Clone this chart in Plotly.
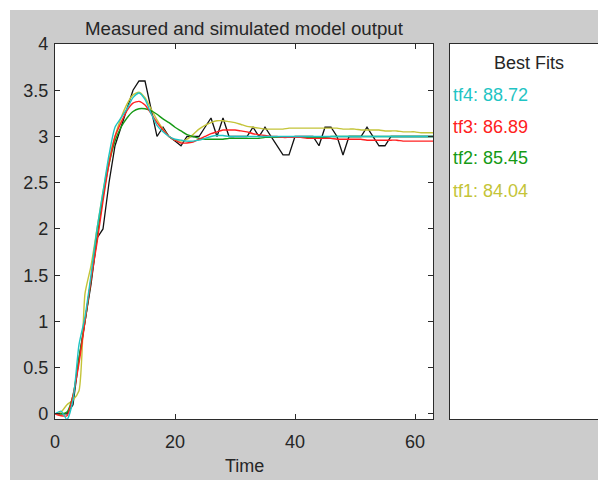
import plotly.graph_objects as go

# ---------------- data ----------------
t_meas = list(range(0, 64))
y_meas = [0.0, 0.0, 0.0, 0.1, 0.6, 1.0, 1.4, 1.9, 2.0, 2.5,
          2.9, 3.1, 3.3, 3.5, 3.6, 3.6, 3.3, 3.0, 3.1, 3.0,
          2.95, 2.9, 3.0, 3.0, 3.0, 3.1, 3.2, 3.0, 3.2, 3.0,
          3.0, 3.0, 3.0, 3.1, 3.0, 3.1, 3.0, 2.9, 2.8, 2.8,
          3.0, 3.0, 3.0, 3.0, 2.9, 3.1, 3.1, 3.0, 2.8, 3.0,
          3.0, 3.0, 3.1, 3.0, 2.9, 2.9, 3.0, 3.0, 3.0, 3.0,
          3.0, 3.0, 3.0, 3.0]

t_sim = list(range(0, 64))
y_tf4 = [0.0, 0.03, -0.06, 0.15, 0.75, 1.05, 1.5, 2.0, 2.4, 2.8,
         3.1, 3.2, 3.3, 3.42, 3.47, 3.4, 3.25, 3.12, 3.05, 3.0,
         2.97, 2.96, 2.95, 2.95, 2.96, 2.98, 3.0, 3.01, 3.01, 3.0,
         3.0, 3.0, 3.0, 3.0, 3.0, 3.0, 3.0, 3.0, 3.0, 3.0,
         3.0, 3.0, 3.0, 3.0, 3.0, 3.0, 3.0, 3.0, 3.0, 3.0,
         3.0, 3.0, 3.0, 3.0, 3.0, 3.0, 3.0, 3.0, 3.0, 3.0,
         3.0, 3.0, 3.0, 3.0]
y_tf3 = [0.0, -0.02, -0.02, 0.2, 0.55, 1.0, 1.45, 1.85, 2.3, 2.7,
         3.0, 3.15, 3.28, 3.36, 3.38, 3.34, 3.25, 3.15, 3.07, 3.0,
         2.96, 2.93, 2.93, 2.94, 2.97, 3.0, 3.03, 3.05, 3.07, 3.07,
         3.07, 3.06, 3.05, 3.03, 3.02, 3.01, 3.0, 3.0, 2.99, 2.99,
         2.99, 2.99, 2.98, 2.98, 2.98, 2.98, 2.98, 2.97, 2.97, 2.97,
         2.97, 2.97, 2.96, 2.96, 2.96, 2.96, 2.96, 2.96, 2.95, 2.95,
         2.95, 2.95, 2.95, 2.95]
y_tf2 = [0.0, 0.0, 0.02, 0.2, 0.6, 1.0, 1.45, 1.9, 2.35, 2.7,
         2.95, 3.1, 3.2, 3.27, 3.3, 3.3, 3.28, 3.24, 3.19, 3.15,
         3.1, 3.06, 3.02, 3.0, 2.98, 2.97, 2.97, 2.97, 2.97, 2.98,
         2.98, 2.98, 2.98, 2.98, 2.98, 2.99, 2.99, 2.99, 2.99, 2.99,
         2.99, 2.99, 2.99, 2.99, 2.99, 2.99, 3.0, 3.0, 3.0, 3.0,
         3.0, 3.0, 3.0, 3.0, 3.0, 3.0, 3.0, 3.0, 3.0, 3.0,
         3.0, 3.0, 3.0, 3.0]
y_tf1 = [0.0, 0.02, 0.1, 0.15, 0.25, 1.3, 1.6, 2.0, 2.4, 2.75,
         3.0, 3.2, 3.35, 3.45, 3.48, 3.42, 3.3, 3.18, 3.08, 3.0,
         2.96, 2.95, 2.97, 3.02, 3.08, 3.12, 3.15, 3.17, 3.17, 3.16,
         3.15, 3.13, 3.11, 3.1, 3.09, 3.08, 3.08, 3.08, 3.08, 3.09,
         3.09, 3.09, 3.09, 3.09, 3.09, 3.09, 3.09, 3.09, 3.08, 3.08,
         3.08, 3.07, 3.07, 3.07, 3.07, 3.06, 3.06, 3.06, 3.05, 3.05,
         3.05, 3.04, 3.04, 3.04]

fit_names = ["tf4", "tf3", "tf2", "tf1"]
fit_values = [88.72, 86.89, 85.45, 84.04]
fit_colors = ["#1fc4c4", "#ff2020", "#159a15", "#c4c438"]

x_ticks = [0, 20, 40, 60]
y_ticks = [0, 0.5, 1, 1.5, 2, 2.5, 3, 3.5, 4]
y_tick_labels = ["0", "0.5", "1", "1.5", "2", "2.5", "3", "3.5", "4"]

# ---------------- figure ----------------
OFF = 8  # page body margin
W, H = 598, 472
P_L, P_R1, P_R2L, P_R, P_T, P_B = 55, 433, 450, 605, 44, 419
ML, MT = P_L - OFF, P_T - OFF
MR = W - (P_R - OFF)
MB = H - (P_B - OFF)
PW, PH = W - ML - MR, H - MT - MB

def px(x):  # page x -> paper
    return (x - OFF - ML) / PW

def py(y):  # page y -> paper
    return (H - MB - (y - OFF)) / PH

FONT = "Liberation Sans, Arial, Helvetica, sans-serif"
AXC = "#2b2b2b"
GRAY = "#cccccc"

fig = go.Figure()
fig.add_trace(go.Scatter(x=t_meas, y=y_meas, mode="lines",
                         line=dict(color="#111111", width=1.3), showlegend=False))
sims = {"tf1": y_tf1, "tf2": y_tf2, "tf3": y_tf3, "tf4": y_tf4}
for name in ["tf1", "tf2", "tf3", "tf4"]:
    col = fit_colors[fit_names.index(name)]
    fig.add_trace(go.Scatter(x=t_sim, y=sims[name], mode="lines",
                             line=dict(color=col, width=1.4, shape="spline", smoothing=0.6),
                             showlegend=False))

fig.add_trace(go.Scatter(x=[0], y=[0], xaxis="x2", yaxis="y2", mode="markers",
                         marker=dict(opacity=0), showlegend=False, hoverinfo="skip"))

axis_common = dict(showgrid=False, zeroline=False, showline=True, linecolor=AXC,
                   linewidth=1.3, mirror="ticks", ticks="inside", ticklen=5,
                   tickcolor=AXC, tickwidth=1, automargin=False,
                   tickfont=dict(family=FONT, size=18, color="#262626"))

fig.update_layout(
    width=W, height=H,
    margin=dict(l=ML, r=MR, t=MT, b=MB, autoexpand=False),
    paper_bgcolor=GRAY,
    plot_bgcolor="white",
    showlegend=False,
    xaxis=dict(domain=[0, px(P_R1)], range=[0, 63], tickvals=x_ticks,
               ticklabelstandoff=6, **axis_common),
    yaxis=dict(range=[-0.055, 4], tickvals=y_ticks, ticktext=y_tick_labels,
               ticklabelstandoff=2, **axis_common),
    xaxis2=dict(domain=[px(P_R2L), 1], anchor="y2", range=[0, 1], showgrid=False,
                zeroline=False, showline=True, mirror=True, linecolor=AXC, linewidth=1.3,
                showticklabels=False, ticks=""),
    yaxis2=dict(domain=[0, 1], anchor="x2", range=[0, 1], showgrid=False,
                zeroline=False, showline=True, mirror=True, linecolor=AXC, linewidth=1.3,
                showticklabels=False, ticks=""),
    shapes=[
        dict(type="rect", xref="paper", yref="paper", layer="above",
             x0=px(0), x1=px(10), y0=py(490), y1=py(0),
             fillcolor="white", line=dict(width=0)),
        dict(type="rect", xref="paper", yref="paper", layer="above",
             x0=px(0), x1=px(620), y0=py(10), y1=py(0),
             fillcolor="white", line=dict(width=0)),
    ],
)

annotations = [
    dict(text="Measured and simulated model output", x=px(244), y=py(28),
         font=dict(family=FONT, size=18.7, color="#262626")),
    dict(text="Time", x=px(244), y=py(466),
         font=dict(family=FONT, size=18, color="#262626")),
    dict(text="Best Fits", x=px(529), y=py(63),
         font=dict(family=FONT, size=18, color="#262626")),
]
ys = [95, 127, 158, 191]
for name, val, col, yy in zip(fit_names, fit_values, fit_colors, ys):
    annotations.append(dict(text=f"{name}: {val:.2f}", x=px(451), y=py(yy), xanchor="left",
                            font=dict(family=FONT, size=18, color=col)))
for a in annotations:
    a.setdefault("xanchor", "center")
    a.update(xref="paper", yref="paper", yanchor="middle", showarrow=False)
fig.update_layout(annotations=annotations)

fig.write_html("out.html")
